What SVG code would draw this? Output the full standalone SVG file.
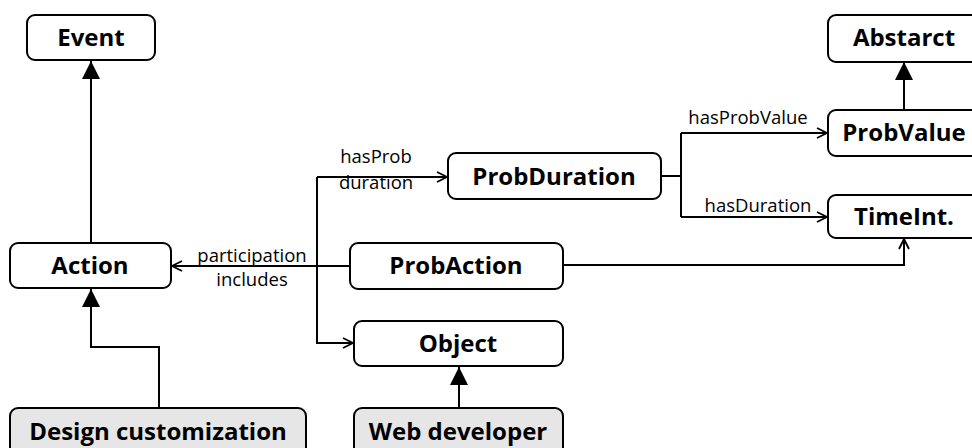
<svg xmlns="http://www.w3.org/2000/svg" width="972" height="448" viewBox="0 0 972 448">
<style>
.box{fill:#fff;stroke:#000;stroke-width:2}
.gray{fill:#e6e6e6;stroke:#000;stroke-width:2}
.t{font-family:"Open Sans",sans-serif;font-weight:bold;font-size:24px;text-anchor:middle}
.l{font-family:"Open Sans",sans-serif;font-size:18.5px;text-anchor:middle}
.e{fill:none;stroke:#000;stroke-width:2}
</style>
<defs>
<marker id="tri" viewBox="0 0 18 18" refX="18" refY="9" markerWidth="18" markerHeight="18" markerUnits="userSpaceOnUse" orient="auto">
<path d="M0,0 L18,9 L0,18 Z" fill="#000"/>
</marker>
<marker id="open" viewBox="0 0 12 12" refX="11" refY="6" markerWidth="12" markerHeight="12" markerUnits="userSpaceOnUse" orient="auto">
<path d="M1,1 L11,6 L1,11" fill="none" stroke="#000" stroke-width="1.8"/>
</marker>
</defs>
<g id="connectors">
<path class="e" d="M91,243 V61" marker-end="url(#tri)"/>
<path class="e" d="M159,408 V347 H91 V289" marker-end="url(#tri)"/>
<path class="e" d="M459,408 V367" marker-end="url(#tri)"/>
<path class="e" d="M904,110 V62" marker-end="url(#tri)"/>
<path class="e" d="M350,266 H172" marker-end="url(#open)"/>
<path class="e" d="M317,177 H447" marker-end="url(#open)"/>
<path class="e" d="M317,177 V343 H353" marker-end="url(#open)"/>
<path class="e" d="M661,176 H681"/>
<path class="e" d="M681,133 V217"/>
<path class="e" d="M681,133 H827" marker-end="url(#open)"/>
<path class="e" d="M681,217 H827" marker-end="url(#open)"/>
<path class="e" d="M563,265 H904 V239" marker-end="url(#open)"/>
<text class="l" x="252" y="262">participation</text>
<text class="l" x="252" y="286">includes</text>
<text class="l" x="376" y="163">hasProb</text>
<text class="l" x="376" y="189">duration</text>
<text class="l" x="748" y="124">hasProbValue</text>
<text class="l" x="758" y="212">hasDuration</text>
</g>
<g id="event"><rect class="box" x="27" y="15" width="128" height="45" rx="8"/><text class="t" x="91" y="46">Event</text></g>
<g id="abstarct"><rect class="box" x="828" y="15" width="152" height="47" rx="8"/><text class="t" x="904" y="46">Abstarct</text></g>
<g id="probvalue"><rect class="box" x="828" y="110" width="152" height="46" rx="8"/><text class="t" x="904" y="141">ProbValue</text></g>
<g id="timeint"><rect class="box" x="828" y="195" width="152" height="43" rx="8"/><text class="t" x="904" y="225">TimeInt.</text></g>
<g id="probduration"><rect class="box" x="448" y="153" width="213" height="46" rx="8"/><text class="t" x="554" y="185">ProbDuration</text></g>
<g id="action"><rect class="box" x="10" y="243" width="161" height="45" rx="8"/><text class="t" x="90" y="274">Action</text></g>
<g id="probaction"><rect class="box" x="350" y="243" width="213" height="46" rx="8"/><text class="t" x="456" y="274">ProbAction</text></g>
<g id="object"><rect class="box" x="354" y="321" width="209" height="45" rx="8"/><text class="t" x="458" y="352">Object</text></g>
<g id="designcustomization"><rect class="gray" x="10" y="408" width="296" height="52" rx="8"/><text class="t" x="158" y="440">Design customization</text></g>
<g id="webdeveloper"><rect class="gray" x="354" y="408" width="209" height="52" rx="8"/><text class="t" x="458" y="440">Web developer</text></g>
</svg>
